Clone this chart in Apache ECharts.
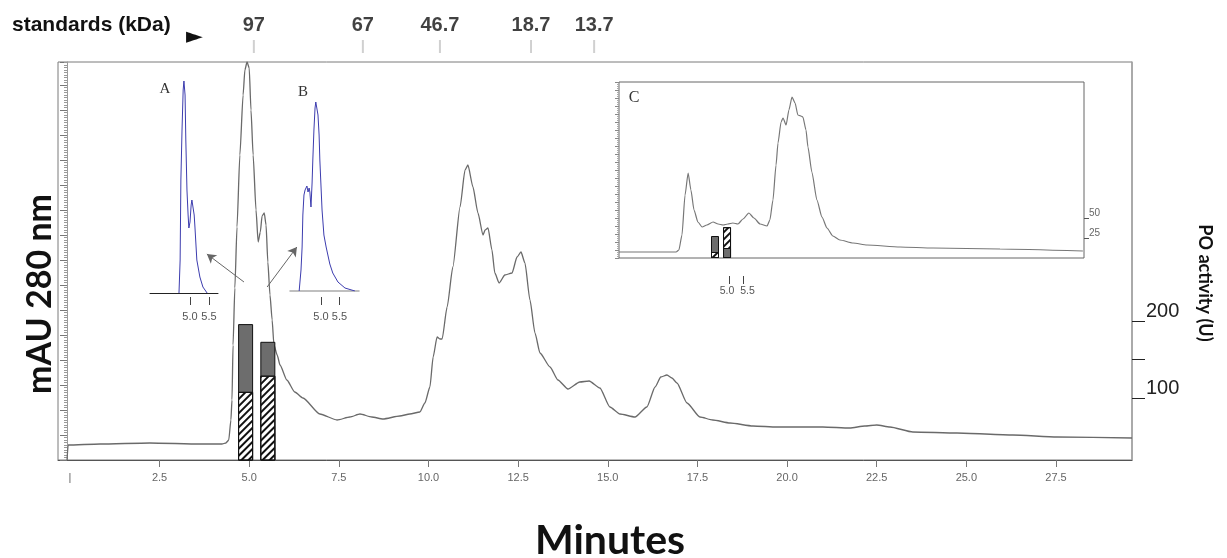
<!DOCTYPE html>
<html>
<head>
<meta charset="utf-8">
<title>Chromatogram and PO activity</title>
<script src="https://cdn.jsdelivr.net/npm/echarts@6/dist/echarts.min.js"></script>
<style>
  html, body { margin: 0; padding: 0; background: #fff; }
  #main { width: 1227px; height: 558px; }
</style>
</head>
<body>
<div id="main"></div>
<script>
// --- data ---

// main chromatogram: [minutes, absorbance (arbitrary mAU units)]
var mainTrace = [
  [-0.08, 0], [-0.05, 15], [0.84, 16], [2.23, 17], [3.63, 16], [4.24, 16], [4.35, 17],
  [4.43, 20], [4.49, 40], [4.52, 60], [4.55, 115], [4.60, 172], [4.66, 233], [4.74, 305],
  [4.83, 365], [4.88, 390], [4.94, 398], [5.00, 392], [5.05, 350], [5.11, 305], [5.19, 250],
  [5.25, 218], [5.31, 228], [5.36, 244], [5.42, 247], [5.47, 235], [5.52, 198], [5.58, 165],
  [5.64, 140], [5.69, 115], [5.78, 105], [5.86, 95], [6.05, 80], [6.27, 68], [6.50, 62],
  [6.97, 46], [7.45, 40], [7.81, 43], [8.09, 46], [8.42, 43], [8.73, 41], [9.20, 44],
  [9.48, 46], [9.76, 48], [9.90, 57], [10.04, 73], [10.13, 103], [10.24, 123], [10.32, 121],
  [10.38, 121], [10.52, 153], [10.68, 193], [10.88, 253], [11.02, 290], [11.10, 295],
  [11.24, 273], [11.38, 247], [11.52, 225], [11.58, 230], [11.66, 232], [11.77, 210],
  [11.85, 187], [11.97, 177], [12.13, 185], [12.33, 187], [12.47, 203], [12.58, 208],
  [12.69, 197], [12.83, 160], [12.97, 127], [13.11, 107], [13.39, 93], [13.61, 80],
  [13.89, 71], [14.22, 78], [14.48, 79], [14.78, 72], [15.06, 53], [15.34, 46], [15.76, 43],
  [16.09, 53], [16.32, 73], [16.48, 83], [16.65, 85], [16.79, 82], [16.93, 77], [17.21, 57],
  [17.57, 43], [17.93, 40], [18.41, 37], [19.05, 34], [19.72, 33], [21.00, 33], [21.75, 32],
  [22.17, 34], [22.50, 35], [22.87, 33], [23.51, 28], [24.74, 27], [26.30, 25], [27.53, 23],
  [29.62, 22]
];

// PO activity bars on the main plot (U): hatched part at the bottom, dark part on top
var mainBarMin = [4.90, 5.52];
var mainBarHatched = [108, 129];
var mainBarDark = [88, 44];

// size standards along the top
var standardsKDa = ["97", "67", "46.7", "18.7", "13.7"];
var standardsMin = [5.13, 8.17, 10.32, 12.86, 14.62];

// axis ticks
var xTickValues = [2.5, 5, 7.5, 10, 12.5, 15, 17.5, 20, 22.5, 25, 27.5];
var xLabelValues = [0, 2.5, 5, 7.5, 10, 12.5, 15, 17.5, 20, 22.5, 25, 27.5];
var poTickValues = [100, 150, 200];
var poLabelValues = [100, 200];
var insetTickValues = [5.0, 5.5];
var insetCRightTicks = [25, 50];

// inset A trace (fraction 1)
var traceA = [
  [4.71, 0], [4.74, 33], [4.76, 113], [4.79, 163], [4.82, 203], [4.84, 212], [4.87, 198],
  [4.89, 153], [4.92, 103], [4.95, 78], [4.97, 65], [5.00, 71], [5.03, 88], [5.05, 93],
  [5.08, 91], [5.11, 78], [5.13, 66], [5.18, 33], [5.26, 16], [5.34, 6], [5.45, 0]
];

// inset B trace (fraction 2)
var traceB = [
  [4.41, 0], [4.46, 21], [4.49, 44], [4.51, 76], [4.54, 96], [4.57, 101], [4.62, 105],
  [4.65, 99], [4.68, 103], [4.70, 99], [4.73, 84], [4.76, 108], [4.78, 131], [4.81, 161],
  [4.84, 183], [4.86, 189], [4.89, 187], [4.92, 176], [4.95, 156], [4.97, 131], [5.03, 81],
  [5.08, 56], [5.14, 44], [5.24, 27], [5.32, 18], [5.46, 9], [5.65, 3], [5.92, 0]
];

// inset C trace
var traceC = [
  [1.07, 6], [2.18, 6], [3.11, 6], [3.21, 8], [3.32, 23], [3.43, 63], [3.54, 85], [3.64, 68],
  [3.75, 48], [3.89, 36], [4.04, 31], [4.21, 33], [4.43, 36], [4.61, 34], [4.79, 33],
  [4.96, 34], [5.14, 35], [5.32, 34], [5.50, 39], [5.71, 45], [5.89, 40], [6.11, 34],
  [6.36, 32], [6.46, 38], [6.57, 58], [6.68, 93], [6.75, 115], [6.86, 136], [6.93, 140],
  [7.04, 133], [7.14, 148], [7.25, 161], [7.36, 155], [7.46, 143], [7.57, 142], [7.64, 141],
  [7.75, 128], [7.82, 111], [7.96, 86], [8.14, 58], [8.32, 41], [8.50, 30], [8.71, 22],
  [8.96, 18], [9.43, 15], [9.93, 13], [11.11, 11], [12.29, 10], [14.68, 9], [17.64, 7]
];

// inset C bars: lower and upper segments (bar 1 hatched below, bar 2 dark below)
var cBarMin = [4.50, 4.93];
var cBarLower = [7.5, 12.5];
var cBarUpper = [20, 26];

// --- styles ---
var hatchStyle = {
  color: "#ffffff",
  borderColor: "#111",
  borderWidth: 1,
  decal: {
    symbol: "rect",
    symbolSize: 1,
    color: "#111",
    dashArrayX: [1, 0],
    dashArrayY: [1.6, 2.4],
    rotation: -Math.PI / 4
  }
};
var darkStyle = { color: "#6d6d6d", borderColor: "#111", borderWidth: 1 };

// segments are drawn as overlapping bars: full height first, lower part over it
function totals(a, b) {
  return a.map(function (v, i) { return v + b[i]; });
}
function pairs(xs, ys) {
  return xs.map(function (x, i) { return [x, ys[i]]; });
}
function fmt1(v) { return Number(v).toFixed(1); }
// inset C: the two labels sit a little apart from their ticks
function fmtSpread(v) { return (v < 5.25 ? "{l|" : "{r|") + fmt1(v) + "}"; }

var hidden = { show: false };
var noSplit = { show: false };
var smallLabel = { fontSize: 11, color: "#555", fontFamily: "'Liberation Sans', Arial" };

var chartDom = document.getElementById("main");
var myChart = echarts.init(chartDom, null, { renderer: "canvas" });

function insetTickAxis(gridIndex, offset, min, max, margin, fontSize, spread) {
  return {
    gridIndex: gridIndex, type: "value", position: "bottom", offset: offset, min: min, max: max,
    axisLine: { show: false, onZero: false },
    axisTick: { show: true, customValues: insetTickValues, length: 8, lineStyle: { color: "#444" } },
    axisLabel: {
      show: true, customValues: insetTickValues, formatter: spread ? fmtSpread : fmt1, margin: margin,
      hideOverlap: false, showMinLabel: true, showMaxLabel: true,
      fontSize: fontSize, color: smallLabel.color, fontFamily: smallLabel.fontFamily,
      rich: spread ? {
        l: { fontSize: fontSize, color: smallLabel.color, fontFamily: smallLabel.fontFamily, padding: [0, 4, 0, 0] },
        r: { fontSize: fontSize, color: smallLabel.color, fontFamily: smallLabel.fontFamily, padding: [0, 0, 0, 9] }
      } : undefined
    },
    splitLine: noSplit
  };
}

var option = {
  animation: false,
  backgroundColor: "#ffffff",
  grid: [
    // 0: main plot
    { left: 58, right: 95, top: 62, bottom: 98, show: true, borderColor: "#7a7a7a", borderWidth: 1, outerBoundsMode: "none" },
    // 1: standards strip
    { left: 58, right: 95, top: 40, height: 13, outerBoundsMode: "none" },
    // 2: inset A
    { left: 150, width: 68, top: 73, height: 220, outerBoundsMode: "none" },
    // 3: inset B
    { left: 290, width: 69, top: 71, height: 220, outerBoundsMode: "none" },
    // 4: inset C
    { left: 619, width: 465, top: 82, height: 176, show: true, borderColor: "#666", borderWidth: 1, backgroundColor: "#fff", outerBoundsMode: "none" }
  ],
  xAxis: [
    {
      gridIndex: 0, type: "value", min: -0.332, max: 29.62,
      axisLine: { show: true, onZero: false, lineStyle: { color: "#555" } },
      axisTick: { show: true, customValues: xTickValues, length: 7, lineStyle: { color: "#777" } },
      axisLabel: {
        show: true, customValues: xLabelValues, margin: 12, fontSize: 11, color: "#666",
        hideOverlap: false, showMinLabel: true, showMaxLabel: true,
        fontFamily: "'Liberation Sans Narrow', 'Liberation Sans', Arial",
        formatter: function (v) { return v === 0 ? "|" : fmt1(v); }
      },
      splitLine: noSplit
    },
    { gridIndex: 1, type: "value", min: -0.332, max: 29.62, show: false },
    {
      gridIndex: 2, type: "value", min: 3.947, max: 5.737,
      axisLine: { show: true, onZero: false, lineStyle: { color: "#222" } },
      axisTick: hidden, axisLabel: hidden, splitLine: noSplit
    },
    insetTickAxis(2, 4, 3.947, 5.737, 14, 11, false),
    {
      gridIndex: 3, type: "value", min: 4.162, max: 6.03,
      axisLine: { show: true, onZero: false, lineStyle: { color: "#aaa", width: 1.5 } },
      axisTick: hidden, axisLabel: hidden, splitLine: noSplit
    },
    insetTickAxis(3, 6, 4.162, 6.03, 14, 11, false),
    {
      gridIndex: 4, type: "value", min: 1.071, max: 17.68,
      axisLine: { show: false, onZero: false }, axisTick: hidden, axisLabel: hidden, splitLine: noSplit
    },
    insetTickAxis(4, 18, 1.071, 17.68, 10, 10.5, true)
  ],
  yAxis: [
    {
      // mAU 280 nm ruler (no labels in the original)
      gridIndex: 0, type: "value", position: "left", min: 0, max: 398, interval: 25, offset: -9,
      axisLine: { show: true, onZero: false, lineStyle: { color: "#9a9a9a" } },
      axisTick: { show: true, length: 7, lineStyle: { color: "#777" } },
      minorTick: { show: true, splitNumber: 10, length: 3, lineStyle: { color: "#9a9a9a" } },
      axisLabel: hidden, splitLine: noSplit, minorSplitLine: noSplit
    },
    {
      // PO activity (U)
      gridIndex: 0, type: "value", position: "right", min: 19.5, max: 536.4,
      axisLine: { show: true, onZero: false, lineStyle: { color: "#a5a5a5", width: 1.5 } },
      axisTick: { show: true, customValues: poTickValues, length: 13, lineStyle: { color: "#222" } },
      axisLabel: {
        show: true, customValues: poLabelValues, margin: 14, fontSize: 20, color: "#222",
        showMinLabel: true, showMaxLabel: true,
        verticalAlign: "bottom", fontFamily: "'Liberation Sans', Arial"
      },
      splitLine: noSplit
    },
    { gridIndex: 1, type: "value", min: 0, max: 1, show: false },
    { gridIndex: 2, type: "value", min: 0, max: 220, show: false },
    { gridIndex: 3, type: "value", min: 0, max: 220, show: false },
    {
      gridIndex: 4, type: "value", position: "left", min: 0, max: 176, interval: 8,
      axisLine: { show: false, onZero: false },
      axisTick: { show: true, length: 4, lineStyle: { color: "#888" } },
      minorTick: { show: true, splitNumber: 4, length: 2, lineStyle: { color: "#aaa" } },
      axisLabel: hidden, splitLine: noSplit, minorSplitLine: noSplit
    },
    {
      gridIndex: 4, type: "value", position: "right", min: 0, max: 220,
      axisLine: { show: false, onZero: false },
      axisTick: { show: true, customValues: insetCRightTicks, length: 5, lineStyle: { color: "#555" } },
      axisLabel: {
        show: true, customValues: insetCRightTicks, margin: 5, fontSize: 10, color: "#666",
        showMinLabel: true, showMaxLabel: true,
        verticalAlign: "bottom", fontFamily: "'Liberation Sans', Arial"
      },
      splitLine: noSplit
    }
  ],
  series: [
    {
      name: "A280", type: "line", xAxisIndex: 0, yAxisIndex: 0,
      data: mainTrace, symbol: "none", smooth: 0.2, smoothMonotone: "x",
      lineStyle: { color: "#6a6a6a", width: 1.3 }, z: 2,
      markLine: {
        silent: true, animation: false,
        symbol: ["none", "arrow"], symbolSize: [8, 9],
        label: { show: false },
        lineStyle: { color: "#666", width: 1, type: "solid" },
        emphasis: { disabled: true },
        data: [
          [{ coord: [4.855, 178] }, { coord: [3.82, 206] }],
          [{ coord: [5.50, 173] }, { coord: [6.33, 213] }]
        ]
      }
    },
    {
      name: "PO total", type: "bar", xAxisIndex: 0, yAxisIndex: 1, barGap: "-100%",
      barWidth: 15, data: pairs(mainBarMin, totals(mainBarHatched, mainBarDark)), itemStyle: darkStyle, z: 3
    },
    {
      name: "PO hatched", type: "bar", xAxisIndex: 0, yAxisIndex: 1, barGap: "-100%",
      barWidth: 15, data: pairs(mainBarMin, mainBarHatched), itemStyle: hatchStyle, z: 4
    },
    {
      name: "standards", type: "scatter", xAxisIndex: 1, yAxisIndex: 2,
      symbol: "rect", symbolSize: [2, 13],
      itemStyle: { color: "#c4c4c4" },
      data: standardsMin.map(function (m, i) { return { value: [m, 0.5], name: standardsKDa[i] }; }),
      label: {
        show: true, position: "top", distance: 5, formatter: "{b}",
        fontSize: 20, fontWeight: "bold", color: "#111", fontFamily: "'Liberation Sans', Arial"
      }
    },
    {
      name: "A", type: "line", xAxisIndex: 2, yAxisIndex: 3, data: traceA,
      symbol: "none", lineStyle: { color: "#3c3cae", width: 1 }
    },
    {
      name: "B", type: "line", xAxisIndex: 4, yAxisIndex: 4, data: traceB,
      symbol: "none", lineStyle: { color: "#3c3cae", width: 1 }
    },
    {
      name: "C", type: "line", xAxisIndex: 6, yAxisIndex: 5, data: traceC,
      symbol: "none", smooth: 0.2, smoothMonotone: "x",
      lineStyle: { color: "#777", width: 1.2 }
    },
    {
      name: "C total", type: "bar", xAxisIndex: 6, yAxisIndex: 6, barWidth: 8, barGap: "-100%", z: 3,
      data: pairs(cBarMin, totals(cBarLower, cBarUpper)).map(function (d, i) {
        return { value: d, itemStyle: i === 0 ? darkStyle : hatchStyle };
      })
    },
    {
      name: "C lower", type: "bar", xAxisIndex: 6, yAxisIndex: 6, barWidth: 8, barGap: "-100%", z: 4,
      data: pairs(cBarMin, cBarLower).map(function (d, i) {
        return { value: d, itemStyle: i === 0 ? hatchStyle : darkStyle };
      })
    }
  ],
  graphic: [
    { type: "text", x: 12, y: 25, style: { text: "standards (kDa)", font: "bold 21px 'Liberation Sans', Arial", fill: "#111", align: "left", verticalAlign: "middle" } },
    { type: "text", x: 186, y: 37, style: { text: "\u25BA", font: "22px 'DejaVu Sans'", fill: "#111", align: "left", verticalAlign: "middle" } },
    { type: "text", x: 40, y: 294, rotation: Math.PI / 2, style: { text: "mAU 280 nm", font: "bold 34px Lato, 'Open Sans', sans-serif", fill: "#111", align: "center", verticalAlign: "middle" } },
    { type: "text", x: 1205, y: 283, rotation: -Math.PI / 2, style: { text: "PO activity (U)", font: "bold 18px Lato, 'Open Sans', sans-serif", fill: "#111", align: "center", verticalAlign: "middle" } },
    { type: "text", x: 610, y: 541, style: { text: "Minutes", font: "bold 41px Lato, 'Open Sans', sans-serif", fill: "#111", align: "center", verticalAlign: "middle" } },
    { type: "text", x: 165, y: 89, style: { text: "A", font: "15px 'Liberation Serif', serif", fill: "#333", align: "center", verticalAlign: "middle" } },
    { type: "text", x: 303, y: 92, style: { text: "B", font: "15px 'Liberation Serif', serif", fill: "#333", align: "center", verticalAlign: "middle" } },
    { type: "text", x: 634, y: 98, style: { text: "C", font: "16px 'Liberation Serif', serif", fill: "#333", align: "center", verticalAlign: "middle" } }
  ]
};

myChart.setOption(option);
</script>
</body>
</html>
